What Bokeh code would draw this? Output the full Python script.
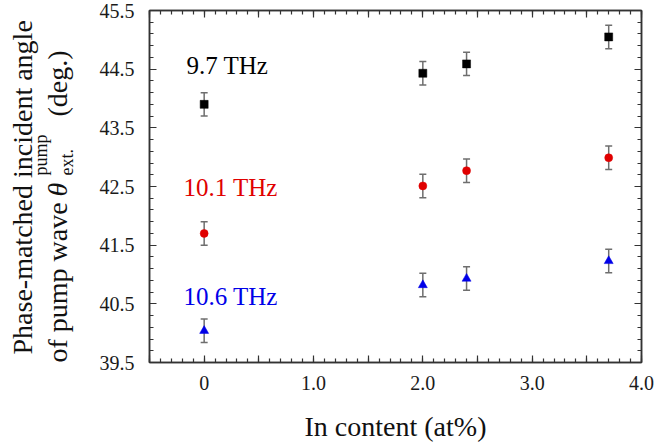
import math
from bokeh.plotting import figure
from bokeh.layouts import row
from bokeh.core.properties import value
from bokeh.models import (ColumnDataSource, Whisker, TeeHead, FixedTicker, LinearAxis,
                          CustomJSTickFormatter, PrintfTickFormatter, Label, Range1d)
from bokeh.embed import file_html
from bokeh.resources import INLINE

# ---------------- data ----------------
in_content = [0.0, 2.0, 2.4, 3.7]
theta_97 = [43.90, 44.43, 44.59, 45.05]
theta_101 = [41.70, 42.51, 42.77, 42.99]
theta_106 = [40.04, 40.82, 40.93, 41.23]
err_97 = [0.2, 0.2, 0.2, 0.2]
err_101 = [0.2, 0.2, 0.2, 0.2]
err_106 = [0.2, 0.2, 0.2, 0.2]
series_names = ["9.7 THz", "10.1 THz", "10.6 THz"]
y_ticks = [39.5, 40.5, 41.5, 42.5, 43.5, 44.5, 45.5]
x_ticks = [-0.5, 0.0, 0.5, 1.0, 1.5, 2.0, 2.5, 3.0, 3.5, 4.0]
x_label = "In content (at%)"
y_label_1 = "Phase-matched incident angle"
y_label_2a = "of pump wave"
y_label_theta = "θ"
y_label_sup = "pump"
y_label_sub = "ext."
y_label_2b = "(deg.)"

# ---------------- layout (window pixels) ----------------
TOTAL_W, TOTAL_H = 656, 446
LW = 96                                  # width of the y-label strip
FL, FR, FT, FB = 148, 641, 13, 365       # frame edges
SHIFT_T, SHIFT_L = 3, 2                  # small correction for layout offsets
X0, X1, Y0, Y1 = -0.5, 4.0, 39.5, 45.5

def dx(px):
    return X0 + (px - FL) * (X1 - X0) / (FR - FL)

def dy(py):
    return Y1 - (py - FT) * (Y1 - Y0) / (FB - FT)

SERIF = "Liberation Serif"
AX = "#333333"
RED = "#e00000"
BLUE = "#0000e8"
TXT = "#111111"

p = figure(width=TOTAL_W - LW, height=TOTAL_H, output_backend="svg", toolbar_location=None,
           x_range=Range1d(X0, X1), y_range=Range1d(Y0, Y1),
           min_border_left=FL - LW - SHIFT_L, min_border_right=TOTAL_W - FR,
           min_border_top=FT - SHIFT_T, min_border_bottom=TOTAL_H - FB + SHIFT_T,
           x_axis_location=None, y_axis_location=None)
p.grid.visible = False
p.outline_line_color = AX
p.outline_line_width = 1.5

minor_x = [round(-0.5 + 0.1 * i, 2) for i in range(46)]
minor_y = [round(39.5 + 0.2 * i, 2) for i in range(31)]

def style_axis(ax, labels=True):
    ax.axis_line_color = AX
    ax.axis_line_width = 1.5
    ax.major_tick_line_color = AX
    ax.minor_tick_line_color = AX
    ax.major_tick_line_width = 1.2
    ax.minor_tick_line_width = 1.2
    ax.major_tick_in = 7
    ax.major_tick_out = 0
    ax.minor_tick_in = 4
    ax.minor_tick_out = 0
    ax.major_label_text_font = SERIF
    ax.major_label_text_font_size = "20px"
    ax.major_label_text_color = "#1a1a1a"
    ax.axis_label_text_font = SERIF
    ax.axis_label_text_font_style = "normal"
    ax.axis_label_text_font_size = "28px"
    ax.axis_label_text_color = TXT
    if not labels:
        ax.major_label_standoff = 0
        ax.major_label_text_font_size = "0px"

xfmt = CustomJSTickFormatter(code="""
    if (Math.abs(tick - Math.round(tick)) > 1e-6) return '';
    if (Math.abs(tick) < 1e-6) return '0';
    return tick.toFixed(1);
""")
blank = CustomJSTickFormatter(code="return '';")

xb = LinearAxis(ticker=FixedTicker(ticks=x_ticks, minor_ticks=minor_x), formatter=xfmt,
                axis_label=x_label)
style_axis(xb)
xb.major_label_standoff = 13
xb.axis_label_standoff = 18
p.add_layout(xb, "below")

xt = LinearAxis(ticker=FixedTicker(ticks=x_ticks, minor_ticks=minor_x), formatter=blank)
style_axis(xt, labels=False)
p.add_layout(xt, "above")

yl = LinearAxis(ticker=FixedTicker(ticks=y_ticks, minor_ticks=minor_y),
                formatter=PrintfTickFormatter(format="%.1f"))
style_axis(yl)
yl.major_label_standoff = 15
p.add_layout(yl, "left")

yr = LinearAxis(ticker=FixedTicker(ticks=y_ticks, minor_ticks=minor_y), formatter=blank)
style_axis(yr, labels=False)
p.add_layout(yr, "right")

# ---------------- series ----------------
series = [
    (theta_97, err_97, "square", "black", 8),
    (theta_101, err_101, "circle", RED, 8),
    (theta_106, err_106, "triangle", BLUE, 9),
]
for vals, errs, marker, col, size in series:
    src = ColumnDataSource(dict(x=in_content, y=vals,
                                upper=[v + e for v, e in zip(vals, errs)],
                                lower=[v - e for v, e in zip(vals, errs)]))
    wh = Whisker(source=src, base="x", upper="upper", lower="lower", dimension="height",
                 line_color="#6e6e6e", line_width=1.5,
                 upper_head=TeeHead(size=7, line_color="#6e6e6e", line_width=1.5),
                 lower_head=TeeHead(size=7, line_color="#6e6e6e", line_width=1.5))
    p.add_layout(wh)
    p.scatter("x", "y", source=src, marker=marker, size=size, fill_color=col,
              line_color=col, line_width=0.5)

# series name labels
name_pos = [(185, 68, "black"), (182, 190, RED), (182, 299, BLUE)]
for name, (px, py, col) in zip(series_names, name_pos):
    p.add_layout(Label(x=dx(px), y=dy(py), text=name, text_font=SERIF,
                       text_font_size="25px", text_color=col,
                       text_align="left", text_baseline="alphabetic"))

# ---------------- rotated y-axis label strip ----------------
# its frame spans the same vertical extent as the main frame; ranges are window pixels
q = figure(width=LW, height=TOTAL_H, output_backend="svg", toolbar_location=None,
           x_range=Range1d(0, LW), y_range=Range1d(TOTAL_H - FB, TOTAL_H - FT),
           min_border_left=0, min_border_right=0,
           min_border_top=FT - SHIFT_T, min_border_bottom=TOTAL_H - FB + SHIFT_T,
           x_axis_location=None, y_axis_location=None)
q.grid.visible = False
q.outline_line_color = None

A = math.pi / 2
def ylab(text, bx, sy, size="28px", style="normal"):
    # bx: baseline position (window x), sy: window y where the text starts (bottom end)
    q.text(x=[bx], y=[TOTAL_H - sy], text=[text], angle=A,
           text_font=value(SERIF), text_font_size=value(size),
           text_font_style=value(style), text_color=TXT,
           text_align="left", text_baseline="alphabetic")

ylab(y_label_1, 22, 357)
ylab(y_label_2a, 57, 365)
ylab(y_label_theta, 57, 199, style="italic")
ylab(y_label_sup, 40, 178, size="18px")
ylab(y_label_sub, 66, 178, size="18px")
ylab(y_label_2b, 57, 119)

layout = row(q, p, spacing=0)
open("out.html", "w").write(file_html(layout, INLINE))
